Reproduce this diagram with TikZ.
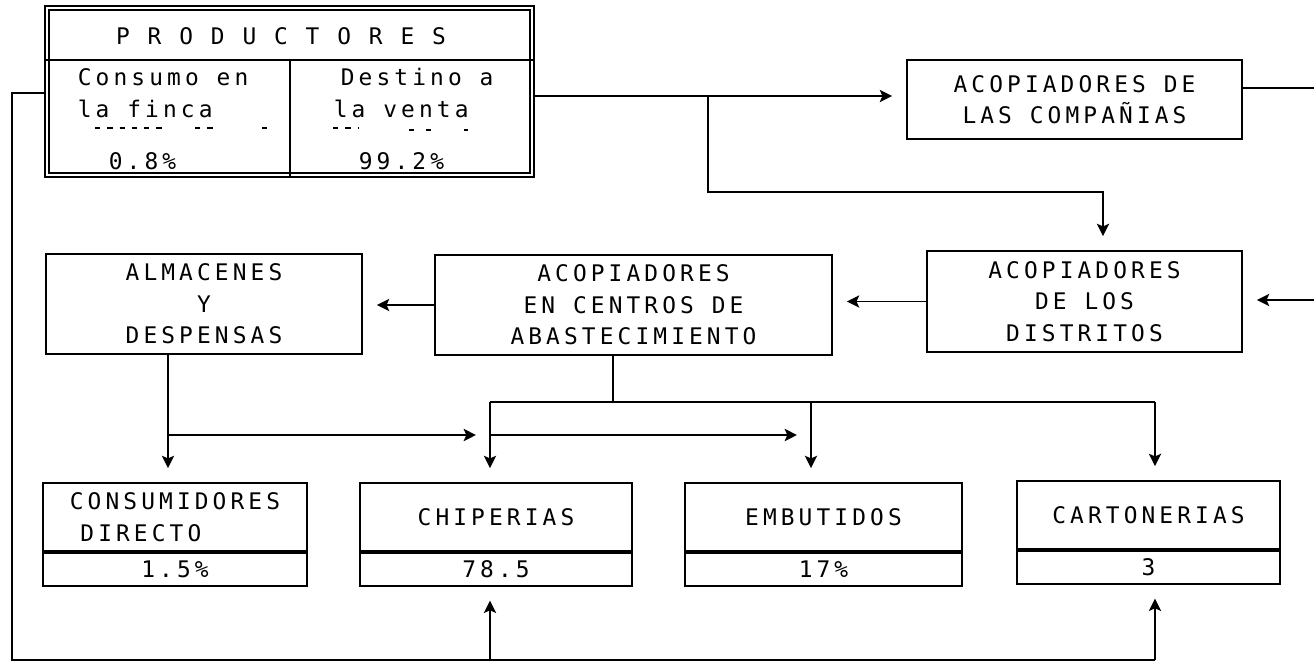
\documentclass[tikz,border=0pt]{standalone}
\usepackage{fontspec}
\usepackage{tikz}
\usetikzlibrary{arrows.meta,positioning}
\newfontfamily\dotfont[LetterSpace=18]{DejaVu Sans Mono}

\begin{document}
\begin{tikzpicture}[x=0.02cm,y=-0.02cm,line width=1pt,
    font=\dotfont\fontsize{13}{18}\selectfont,
    box/.style={draw,align=center,inner sep=2pt},
    valbox/.style={draw,inner sep=1pt,minimum height=0.66cm},
    arr/.style={-{Stealth[length=7pt,width=7pt,inset=1.5pt]},shorten >=8pt}]
  \useasboundingbox (0,0) rectangle (1314,663);
  \node[draw,double,double distance=1.5pt,minimum width=9.7cm,minimum height=3.34cm] (prod) at (289.5,91.5) {};
  \draw (prod.west |- 0,60) -- (prod.east |- 0,60);
  \draw (290,60) -- (290,0 |- prod.south);
  \node (title) at (281,36) {P R O D U C T O R E S};
  \node[anchor=west,inner sep=0pt] (finca1) at (77,77) {Consumo en};
  \node[anchor=west,inner sep=0pt] (finca2) at (77,109) {la finca};
  \node[anchor=west,inner sep=0pt] (fincav) at (108,161) {0.8\%};
  \node[anchor=west,inner sep=0pt] (venta1) at (340,77) {Destino a};
  \node[anchor=west,inner sep=0pt] (venta2) at (333,109) {la venta};
  \node[anchor=west,inner sep=0pt] (ventav) at (358,161) {99.2\%};
  \draw[dash pattern=on 3pt off 4pt] (95,128) -- (167,128);
  \draw[dash pattern=on 3pt off 4pt] (195,128) -- (217,128);
  \draw (262,128) -- (267,128);
  \draw[dash pattern=on 3pt off 4pt] (333,128) -- (358,128);
  \draw (409,130) -- (414,130);
  \draw (426,130) -- (431,130);
  \draw (464,130) -- (468,130);

  \node[box,minimum width=6.7cm,minimum height=1.58cm] (comp) at (1074.5,99.5) {ACOPIADORES DE\\LAS COMPAÑIAS};
  \node[box,minimum width=6.3cm,minimum height=2.02cm] (dist) at (1084.5,301.5) {ACOPIADORES\\DE LOS\\DISTRITOS};
  \node[box,minimum width=7.94cm,minimum height=2cm] (abast) at (633.5,305) {ACOPIADORES\\EN CENTROS DE\\ABASTECIMIENTO};
  \node[box,minimum width=6.32cm,minimum height=2cm] (alm) at (204,304) {ALMACENES\\Y\\DESPENSAS};

  \node[box,align=left,minimum width=5.28cm,minimum height=1.36cm] (cons) at (175,517) {CONSUMIDORES\\\hspace*{6pt}DIRECTO};
  \node[valbox,minimum width=5.28cm,below=0pt of cons] (consval) {1.5\%};
  \node[box,minimum width=5.44cm,minimum height=1.36cm] (chip) at (496,517) {CHIPERIAS};
  \node[valbox,minimum width=5.44cm,below=0pt of chip] (chipval) {78.5};
  \node[box,minimum width=5.54cm,minimum height=1.36cm] (emb) at (823.5,517) {EMBUTIDOS};
  \node[valbox,minimum width=5.54cm,below=0pt of emb] (embval) {17\%};
  \node[box,minimum width=5.26cm,minimum height=1.36cm] (cart) at (1148.5,515) {CARTONERIAS};
  \node[valbox,minimum width=5.26cm,below=0pt of cart] (cartval) {3};

  \coordinate (jtop) at (708,96);
  \coordinate (jdist) at (1103,192);
  \coordinate (rtop) at (1314,88);
  \coordinate (rmid) at (1314,300);
  \coordinate (jabast) at (613,402);
  \coordinate (jchip) at (490,402);
  \coordinate (jemb) at (811,402);
  \coordinate (jcart) at (1155,402);
  \coordinate (jalm) at (168,435);
  \coordinate (lpt) at (12,660);
  \coordinate (jchipb) at (490,660);
  \coordinate (jcartb) at (1155,660);

  \draw[arr] (prod.east |- jtop) -- (comp.west |- jtop);
  \draw[arr] (jtop) |- (jdist) -- (jdist |- dist.north);
  \draw (comp.east |- rtop) -- (rtop);
  \draw[arr] (rmid) -- (dist.east |- rmid);
  \draw[arr] (dist.west) -- (abast.east |- dist.west);
  \draw[arr] (abast.west) -- (alm.east |- abast.west);
  \draw (abast.south -| jabast) -- (jabast);
  \draw (jchip) -- (jcart);
  \draw[arr] (jchip) -- (jchip |- chip.north);
  \draw[arr] (jemb) -- (jemb |- emb.north);
  \draw[arr] (jcart) -- (jcart |- cart.north);
  \draw[arr] (alm.south -| jalm) -- (jalm |- cons.north);
  \draw[arr] (jalm) -- (jalm -| jchip);
  \draw[arr] (jalm -| jchip) -- (jalm -| jemb);
  \draw (prod.west |- 0,93) -| (lpt) -- (jcartb);
  \draw[arr] (jchipb) -- (jchipb |- chipval.south);
  \draw[arr] (jcartb) -- (jcartb |- cartval.south);
\end{tikzpicture}
\end{document}
